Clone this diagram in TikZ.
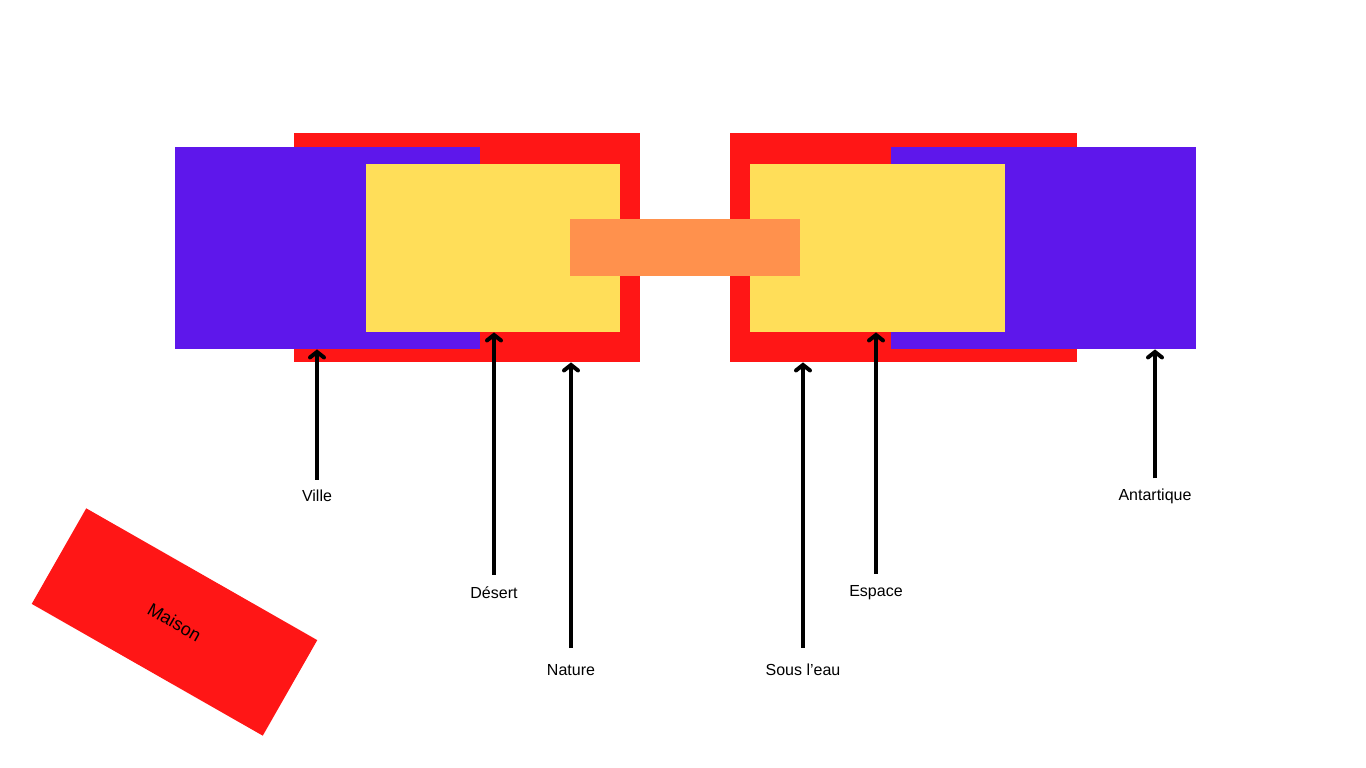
\documentclass[tikz,border=0pt]{standalone}
\usepackage{fontspec}
\setmainfont{Liberation Sans}
\definecolor{BoxRed}{RGB}{255,22,22}
\definecolor{BoxPurple}{RGB}{94,23,235}
\definecolor{BoxYellow}{RGB}{255,222,89}
\definecolor{BoxOrange}{RGB}{255,145,77}
\usetikzlibrary{arrows.meta, positioning, calc}

\tikzset{
  zone/.style={draw=none, inner sep=0pt, anchor=north west},
  place/.style={font=\fontsize{16}{19}\selectfont, inner sep=2pt},
  pointer/.style={line width=4pt, -{Straight Barb[length=5.5pt,width=14pt,line cap=round]}, shorten <=8pt}
}

\begin{document}
\begin{tikzpicture}[x=1pt, y=-1pt]
\useasboundingbox (0,0) rectangle (1366,768);

% left group
\node[zone, fill=BoxRed, minimum width=346pt, minimum height=229pt] (redL) at (294,133) {};
\node[zone, fill=BoxPurple, minimum width=305pt, minimum height=202pt] (purpleL) at (175,147) {};
\node[zone, fill=BoxYellow, minimum width=254pt, minimum height=168pt] (yellowL) at (366,164) {};

% right group
\node[zone, fill=BoxRed, minimum width=347pt, minimum height=229pt] (redR) at (730,133) {};
\node[zone, fill=BoxPurple, minimum width=305pt, minimum height=202pt] (purpleR) at (891,147) {};
\node[zone, fill=BoxYellow, minimum width=255pt, minimum height=168pt] (yellowR) at (750,164) {};

% bridge
\node[zone, fill=BoxOrange, minimum width=230pt, minimum height=57pt] (bridge) at (570,219) {};

% house
\node[fill=BoxRed, inner sep=0pt, minimum width=266pt, minimum height=110pt,
  rotate=-29.7, font=\fontsize{18}{21}\selectfont] (maison) at (174.5,622) {Maison};

% labels
\node[place] (ville) at (317,496) {Ville};
\node[place] (desert) at (494,593) {Désert};
\node[place] (nature) at (571,670) {Nature};
\node[place] (souseau) at (803,670) {Sous l'eau};
\node[place] (espace) at (876,593) {Espace};
\node[place] (antartique) at (1155,496) {Antartique};

% arrows
\draw[pointer] (ville.north) -- (ville.north |- purpleL.south);
\draw[pointer, shorten <=10pt] (desert.north) -- (desert.north |- yellowL.south);
\draw[pointer, shorten <=14pt] (nature.north) -- (nature.north |- redL.south);
\draw[pointer, shorten <=14pt] (souseau.north) -- (souseau.north |- redR.south);
\draw[pointer, shorten <=10pt] (espace.north) -- (espace.north |- yellowR.south);
\draw[pointer] (antartique.north) -- (antartique.north |- purpleR.south);
\end{tikzpicture}
\end{document}
